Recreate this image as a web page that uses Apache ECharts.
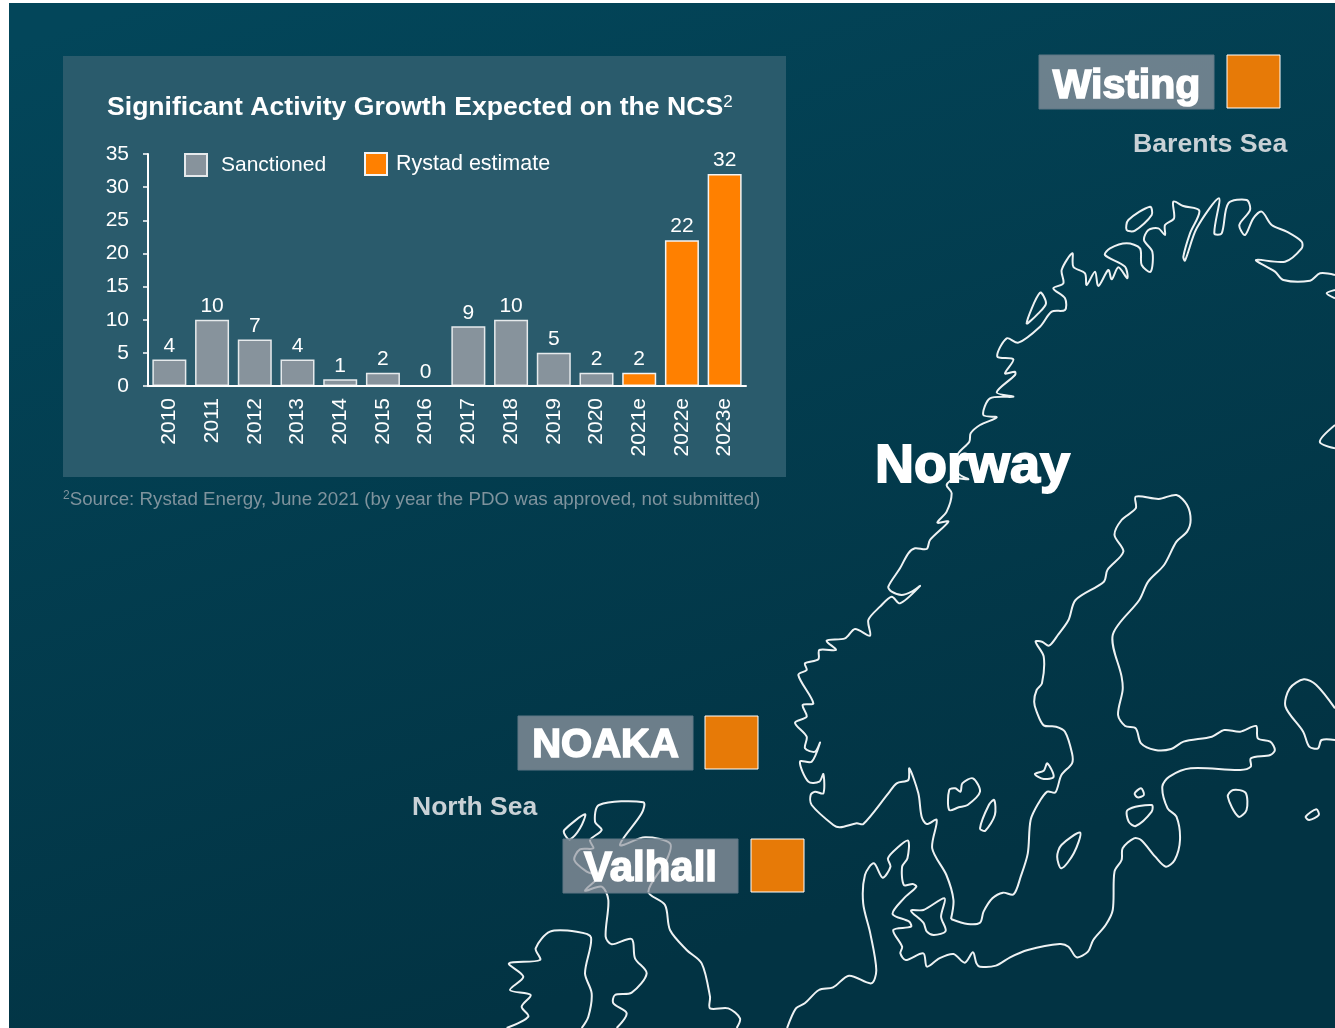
<!DOCTYPE html>
<html>
<head>
<meta charset="utf-8">
<style>
  html, body { margin: 0; padding: 0; background: #fff; }
  #chart { width: 1335px; height: 1028px; }
</style>
</head>
<body>
<div id="chart"></div>
<script src="https://cdn.jsdelivr.net/npm/echarts@6/dist/echarts.min.js"></script>
<script>
const years = ['2010', '2011', '2012', '2013', '2014', '2015', '2016', '2017', '2018', '2019', '2020', '2021e', '2022e', '2023e'];
const sanctioned = [4, 10, 7, 4, 1, 2, 0, 9, 10, 5, 2, null, null, null];
const rystadEstimate = [null, null, null, null, null, null, null, null, null, null, null, 2, 22, 32];
const sanctionedName = 'Sanctioned';
const estimateName = 'Rystad estimate';
const chartTitle = 'Significant Activity Growth Expected on the NCS';
const sourceNote = 'Source: Rystad Energy, June 2021 (by year the PDO was approved, not submitted)';

const FONT = '"Liberation Sans", Arial, sans-serif';

const north = (pts) => pts.map((p) => [780 + p[0] / 2.825, 180 + p[1] / 3]);
const south = (pts) => pts.map((p) => [780 + p[0] / 2.825, 600 + p[1] / 3]);
const uk = (pts) => pts.map((p) => [400 + p[0] / 3, 700 + p[1] / 3]);
const crop = (x0, y0) => (pts) => pts.map((p) => [x0 + p[0] / 3, y0 + p[1] / 3]);
const finnmark = crop(1020, 190);
const midNorway = crop(880, 330);
const westNorway = crop(790, 620);

const coastOpen = [
  // Baltic side, Skane up to the Gulf of Bothnia and round Finland
  south([[483, 957], [530, 972], [565, 968], [575, 935], [600, 895], [630, 878], [660, 883], [680, 830], [700, 760], [708, 660], [730, 610], [755, 575], [778, 577], [795, 525], [825, 490], [825, 460], [805, 395], [780, 380], [745, 376], [725, 335], [718, 305], [725, 270], [740, 250], [745, 170], [722, 125], [740, 125], [760, 137], [785, 105], [815, 60], [835, 0]])
    .concat(north([[915, 1205], [925, 1170], [970, 1115], [945, 1065], [965, 1020], [1005, 985], [1005, 950], [1070, 957], [1120, 945], [1150, 975], [1160, 1020], [1150, 1055], [1120, 1085], [1085, 1155], [1040, 1205]]))
    .concat(south([[1015, 0], [940, 105], [965, 230], [968, 270], [955, 345], [975, 378], [1005, 385], [1020, 430], [1060, 450], [1105, 447], [1140, 425], [1220, 410], [1255, 390], [1300, 395], [1345, 378], [1350, 415], [1385, 425], [1398, 450], [1385, 465], [1330, 475], [1330, 500], [1300, 510], [1160, 505], [1100, 530], [1080, 560], [1095, 625], [1120, 650], [1130, 720], [1115, 780], [1090, 800], [1060, 770], [1020, 720], [1000, 715], [968, 745], [965, 780], [945, 815], [940, 930], [920, 975], [885, 1020], [870, 1055], [838, 1072], [815, 1040], [790, 1032], [700, 1050], [650, 1072], [610, 1097], [565, 1100], [555, 1090], [545, 1057], [522, 1088], [490, 1062], [450, 1075], [415, 1100], [405, 1060], [355, 1080], [340, 1060], [345, 1040], [320, 990], [370, 980], [365, 965], [318, 942], [350, 895], [385, 860], [375, 852], [350, 855], [345, 800], [360, 775], [362, 722], [330, 745], [305, 775], [312, 800], [290, 833], [265, 790], [240, 825], [235, 910], [255, 1000], [272, 1110], [258, 1150], [195, 1127], [150, 1162], [110, 1170], [70, 1210], [45, 1225], [20, 1284]])),
  // Norway, Oslofjord round the west coast up to the Kola
  south([[483, 957], [490, 900], [470, 825], [430, 745]])
    .concat(westNorway([[440, 600], [410, 612], [395, 590], [385, 520], [358, 445], [355, 480], [320, 490], [295, 520], [220, 612], [200, 610], [150, 622], [130, 615], [65, 555], [62, 525], [75, 515], [100, 520], [100, 462], [88, 485], [55, 485], [30, 425], [65, 425], [90, 368], [75, 395], [45, 385], [50, 350], [15, 308], [50, 290], [38, 255], [70, 250], [25, 165], [50, 150], [45, 130], [85, 118], [88, 90], [138, 90], [110, 62], [165, 55], [195, 27], [240, 47], [235, 0]]))
    .concat(midNorway([[0, 830], [35, 800], [60, 820], [120, 768], [95, 785], [65, 795], [35, 785], [25, 770], [60, 715], [85, 670], [105, 655], [140, 657], [150, 630], [205, 575], [172, 578], [200, 545], [215, 490], [200, 465], [225, 445], [265, 448], [235, 430], [232, 375], [268, 335], [272, 310], [300, 285], [350, 262], [310, 255], [330, 205], [400, 200], [350, 187], [405, 135], [405, 125], [375, 130], [400, 88], [352, 80], [380, 25], [415, 38]]))
    .concat(finnmark([[60, 410], [95, 365], [135, 360], [135, 325], [100, 295], [130, 280], [125, 240], [157, 190], [160, 230], [195, 250], [200, 285], [225, 245], [235, 288], [265, 240], [275, 268], [295, 232], [322, 265], [315, 230], [255, 195], [270, 175], [320, 160], [360, 175], [365, 225], [392, 245], [397, 185], [372, 150], [385, 120], [415, 115], [435, 135], [435, 105], [462, 85], [460, 35], [490, 48], [538, 62], [510, 130], [490, 200], [495, 212], [530, 115], [597, 25], [583, 130], [605, 130], [625, 40], [680, 30], [690, 60], [658, 105], [675, 135], [700, 85], [725, 65], [755, 105], [800, 125], [845, 155], [845, 175], [795, 215], [708, 210], [765, 245], [790, 270], [870, 272], [900, 250], [945, 255]])),
  finnmark([[945, 300], [920, 310], [945, 325]]),
  north([[1568, 735], [1525, 785], [1568, 805]]),
  // Ladoga runs off the right edge
  south([[1568, 325], [1515, 255], [1480, 238], [1440, 265], [1428, 320], [1478, 395], [1495, 440], [1520, 445], [1530, 420], [1568, 420]]),
  // Britain
  uk([[1010, 984], [1020, 955], [985, 925], [930, 925], [930, 890], [905, 790], [860, 750], [810, 690], [795, 615], [745, 575], [800, 480], [810, 430], [735, 412], [660, 435], [725, 340], [730, 307], [597, 315], [585, 365], [605, 390], [570, 420], [580, 445], [540, 448], [523, 480], [560, 515], [595, 530], [555, 572], [605, 560], [625, 600], [617, 710], [635, 733], [695, 717], [705, 775], [740, 820], [695, 878], [645, 885], [640, 910], [680, 940], [650, 984]]),
  // Ireland
  uk([[320, 984], [385, 950], [365, 920], [392, 885], [330, 870], [370, 830], [327, 790], [420, 780], [407, 745], [450, 695], [530, 695], [573, 712], [555, 820], [575, 880], [565, 950], [545, 984]])
];

const coastClosed = [
  finnmark([[20, 400], [60, 308], [78, 340], [55, 370]]),
  finnmark([[320, 120], [325, 90], [390, 50], [395, 75], [345, 122]]),
  south([[478, 630], [478, 570], [495, 565], [510, 575], [515, 550], [545, 535], [565, 575], [530, 615], [505, 622]]),
  south([[565, 685], [590, 615], [605, 600], [607, 645], [580, 692]]),
  south([[720, 522], [745, 512], [755, 490], [773, 530], [745, 537]]),
  south([[848, 698], [795, 735], [783, 770], [795, 805], [830, 760]]),
  south([[1002, 580], [1020, 565], [1028, 585], [1010, 592]]),
  south([[982, 630], [1050, 615], [1050, 635], [1005, 678], [985, 665]]),
  south([[1265, 590], [1280, 570], [1315, 578], [1318, 630], [1295, 650]]),
  south([[1485, 650], [1515, 628], [1522, 645], [1495, 660]]),
  south([[370, 932], [405, 930], [465, 895], [455, 950], [468, 993], [435, 1005], [415, 995], [405, 968]]),
  uk([[493, 390], [555, 343], [540, 385], [510, 418], [495, 405]])
];

const coastStyle = { fill: null, stroke: '#eef2f3', lineWidth: 2 };
const coastElements = coastOpen.map((points) => ({
  type: 'polyline', silent: true, shape: { points: points, smooth: 0.3 }, style: coastStyle
})).concat(coastClosed.map((points) => ({
  type: 'polygon', silent: true, shape: { points: points, smooth: 0.3 }, style: coastStyle
})));

// project tag: grey label plus the orange box next to it
function projectTag(name, x, y, w, boxX, size, textY) {
  return [
    {
      type: 'rect', shape: { x: x, y: y, width: w, height: 54 },
      style: { fill: 'rgba(150,154,163,0.72)', stroke: '#5f7785', lineWidth: 1 }
    },
    {
      type: 'rect', shape: { x: boxX, y: y, width: 53, height: 53 },
      style: { fill: '#e77a07', stroke: '#fff', lineWidth: 1 }
    },
    {
      type: 'text', x: x + w / 2, y: textY,
      style: {
        text: name, fill: '#fff', stroke: '#fff', lineWidth: 1.6,
        font: 'bold ' + size + 'px ' + FONT, align: 'center', verticalAlign: 'middle'
      }
    }
  ];
}

function mapLabel(text, x, y, size, color, lineWidth) {
  return {
    type: 'text', x: x, y: y,
    style: {
      text: text, fill: color, stroke: lineWidth ? color : null, lineWidth: lineWidth || 0,
      font: 'bold ' + size + 'px ' + FONT, verticalAlign: 'middle'
    }
  };
}

const chart = echarts.init(document.getElementById('chart'));

const legendBase = {
  orient: 'horizontal',
  itemWidth: 22,
  itemHeight: 22,
  itemGap: 0,
  selectedMode: false,
  padding: 0
};

const option = {
  animation: false,
  graphic: {
    elements: [
      {
        type: 'rect', shape: { x: 9, y: 3, width: 1326, height: 1025 },
        style: {
          fill: new echarts.graphic.LinearGradient(0.1, 0, 0.35, 1, [
            { offset: 0, color: '#03465a' },
            { offset: 1, color: '#023343' }
          ])
        }
      },
      { type: 'rect', shape: { x: 63, y: 56, width: 723, height: 421 }, style: { fill: '#2a5b6c' } }
    ]
      .concat(coastElements)
      .concat(projectTag('Wisting', 1039, 55, 175, 1227, 41, 87))
      .concat(projectTag('NOAKA', 518, 716, 175, 705, 40, 746))
      .concat(projectTag('Valhall', 563, 839, 175, 751, 42, 869))
      .concat([
        mapLabel('Norway', 875, 467, 54, '#fff', 1.8),
        mapLabel('Barents Sea', 1133, 145, 26.7, '#c9d1d6'),
        mapLabel('North Sea', 412, 808, 26.5, '#c9d1d6')
      ])
  },
  title: [
    {
      left: 107,
      top: 94,
      padding: 0,
      text: '{main|' + chartTitle + '}{sup|2}',
      textStyle: {
        rich: {
          main: { fontFamily: FONT, fontWeight: 'bold', fontSize: 26.6, color: '#fff', verticalAlign: 'bottom' },
          sup: { fontFamily: FONT, fontWeight: 'normal', fontSize: 17, color: '#fff', verticalAlign: 'top' }
        }
      }
    },
    {
      left: 63,
      top: 490,
      padding: 0,
      text: '{sup|2}{main|' + sourceNote + '}',
      textStyle: {
        rich: {
          main: { fontFamily: FONT, fontWeight: 'normal', fontSize: 18.75, color: '#7f939d', verticalAlign: 'bottom' },
          sup: { fontFamily: FONT, fontWeight: 'normal', fontSize: 12, color: '#7f939d', verticalAlign: 'top' }
        }
      }
    }
  ],
  legend: [
    Object.assign({}, legendBase, {
      left: 184, top: 153,
      data: [{ name: sanctionedName, icon: 'rect' }],
      textStyle: { fontFamily: FONT, fontSize: 21, color: '#fff', padding: [4, 0, 0, 9] }
    }),
    Object.assign({}, legendBase, {
      left: 364, top: 152,
      data: [{ name: estimateName, icon: 'rect' }],
      textStyle: { fontFamily: FONT, fontSize: 21.5, color: '#fff', padding: [0, 0, 0, 4] }
    })
  ],
  grid: { left: 148, top: 154, width: 598, height: 232, containLabel: false },
  xAxis: {
    type: 'category',
    data: years,
    z: 3,
    axisTick: { show: false },
    axisLine: { lineStyle: { color: '#fff', width: 2 } },
    axisLabel: {
      rotate: 90, margin: 12, color: '#fff', fontFamily: FONT, fontSize: 21, interval: 0
    }
  },
  yAxis: {
    type: 'value',
    min: 0,
    max: 35,
    interval: 5,
    z: 3,
    splitLine: { show: false },
    axisLine: { show: true, lineStyle: { color: '#fff', width: 2 } },
    axisTick: { show: true, length: 5, lineStyle: { color: '#fff', width: 1.5 } },
    axisLabel: { margin: 19, color: '#fff', fontFamily: FONT, fontSize: 21, padding: [2, 0, 0, 0] }
  },
  series: [
    {
      name: sanctionedName,
      type: 'bar',
      stack: 'total',
      barWidth: 34,
      data: sanctioned,
      itemStyle: { color: '#87939c', borderColor: '#e6eaec', borderWidth: 1.5 },
      label: { show: true, position: 'top', distance: 3, color: '#fff', fontFamily: FONT, fontSize: 21 }
    },
    {
      name: estimateName,
      type: 'bar',
      stack: 'total',
      barWidth: 34,
      data: rystadEstimate,
      itemStyle: { color: '#ff8000', borderColor: '#f2f4f5', borderWidth: 1.5 },
      label: { show: true, position: 'top', distance: 3, color: '#fff', fontFamily: FONT, fontSize: 21 }
    }
  ]
};

chart.setOption(option);
</script>
</body>
</html>
